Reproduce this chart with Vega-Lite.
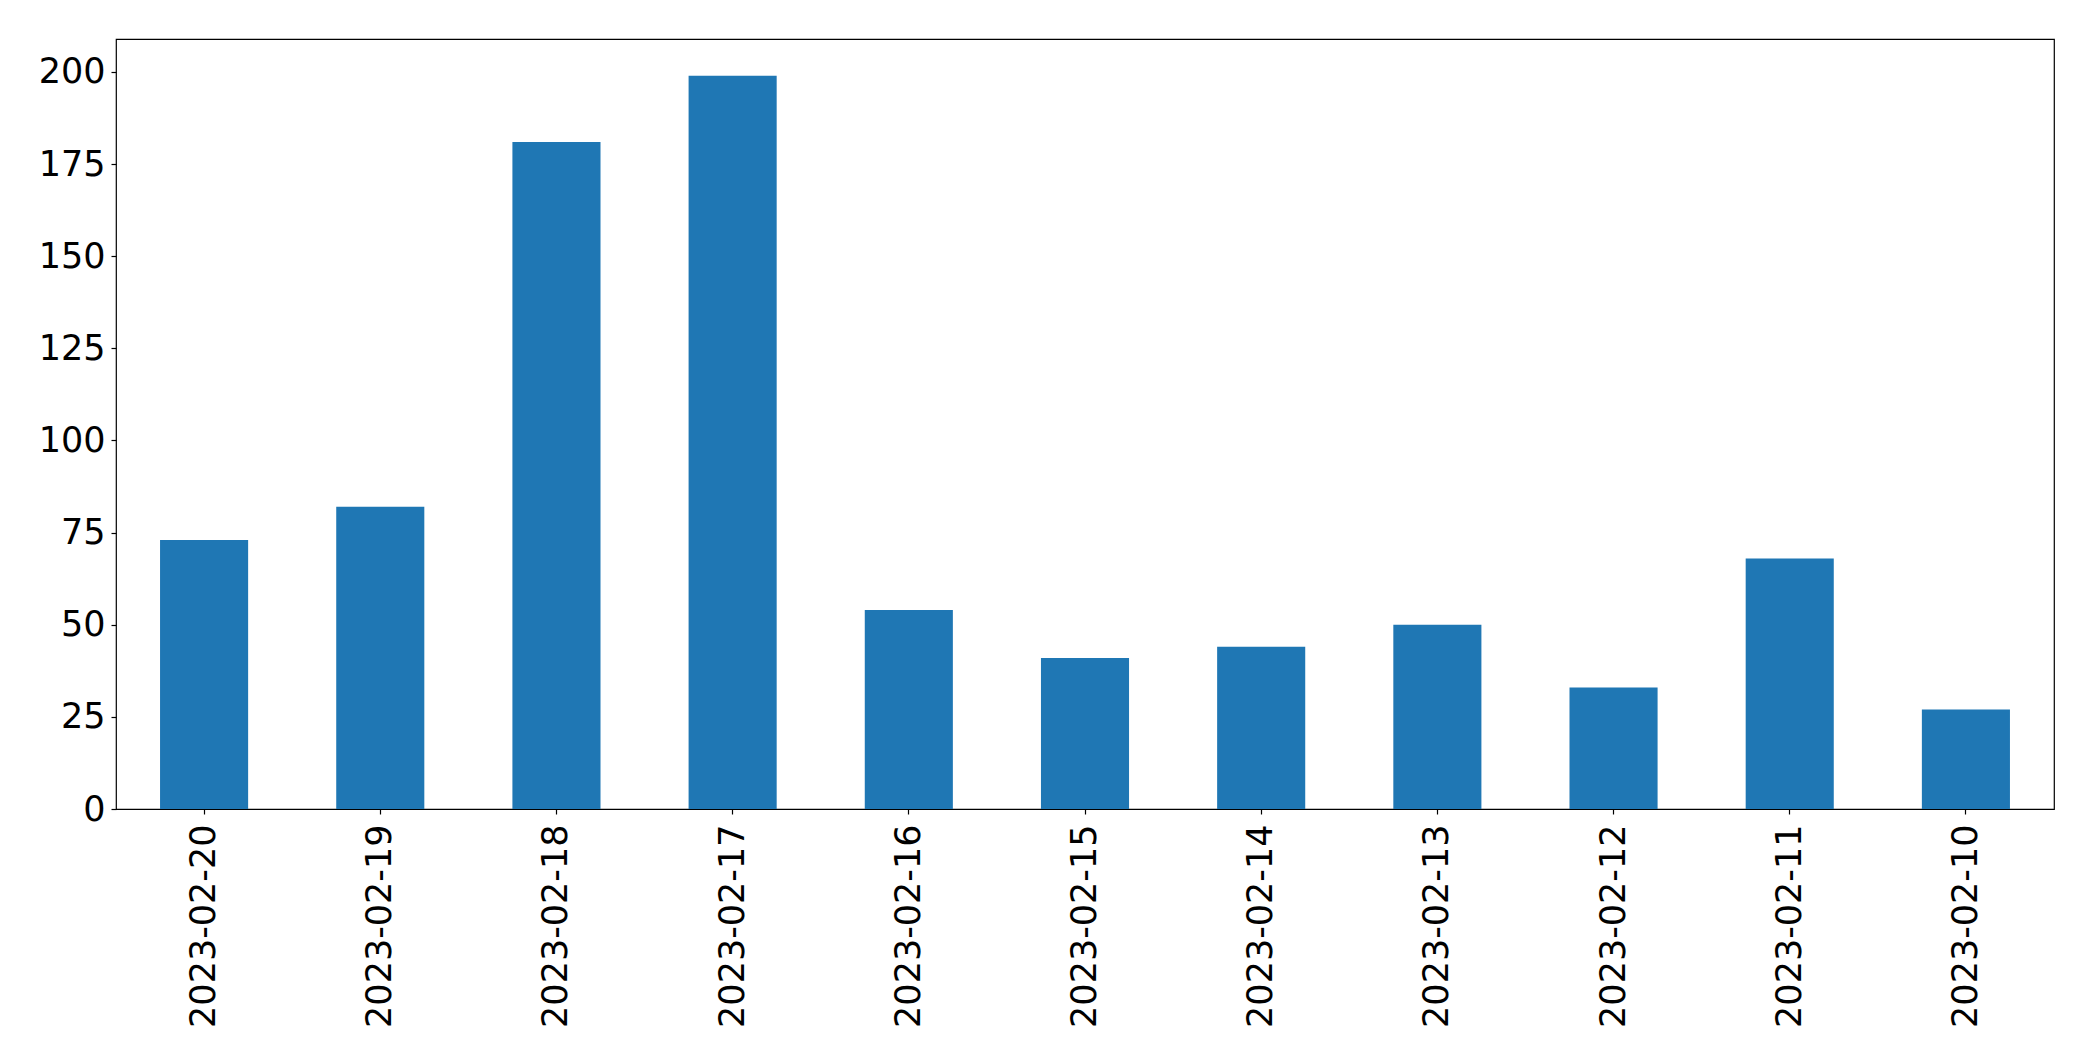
{
  "$schema": "https://vega.github.io/schema/vega-lite/v6.json",
  "autosize": {"type": "none"},
  "width": 1938,
  "height": 770,
  "padding": {"left": 116, "top": 39, "right": 39, "bottom": 252},
  "background": "white",
  "config": {
    "view": {"stroke": "black", "strokeWidth": 1.2},
    "font": "DejaVu Sans"
  },
  "data": {
    "values": [
      {"date": "2023-02-20", "count": 73},
      {"date": "2023-02-19", "count": 82},
      {"date": "2023-02-18", "count": 181},
      {"date": "2023-02-17", "count": 199},
      {"date": "2023-02-16", "count": 54},
      {"date": "2023-02-15", "count": 41},
      {"date": "2023-02-14", "count": 44},
      {"date": "2023-02-13", "count": 50},
      {"date": "2023-02-12", "count": 33},
      {"date": "2023-02-11", "count": 68},
      {"date": "2023-02-10", "count": 27}
    ]
  },
  "mark": {"type": "bar", "color": "#1f77b4"},
  "encoding": {
    "x": {
      "field": "date",
      "type": "nominal",
      "sort": null,
      "scale": {"paddingInner": 0.5, "paddingOuter": 0.25},
      "axis": {
        "title": null,
        "labelAngle": -90,
        "labelAlign": "right",
        "labelBaseline": "middle",
        "labelFont": "DejaVu Sans",
        "labelFontSize": 35,
        "labelColor": "black",
        "labelPadding": 10,
        "labelLimit": 0,
        "labelOverlap": false,
        "tickSize": 5,
        "tickColor": "black",
        "tickWidth": 1.2,
        "domain": false,
        "grid": false
      }
    },
    "y": {
      "field": "count",
      "type": "quantitative",
      "scale": {"domain": [0, 208.95], "nice": false, "zero": true},
      "axis": {
        "title": null,
        "values": [0, 25, 50, 75, 100, 125, 150, 175, 200],
        "labelFont": "DejaVu Sans",
        "labelFontSize": 35,
        "labelColor": "black",
        "labelPadding": 6,
        "labelLimit": 0,
        "tickSize": 5,
        "tickColor": "black",
        "tickWidth": 1.2,
        "domain": false,
        "grid": false
      }
    }
  }
}
